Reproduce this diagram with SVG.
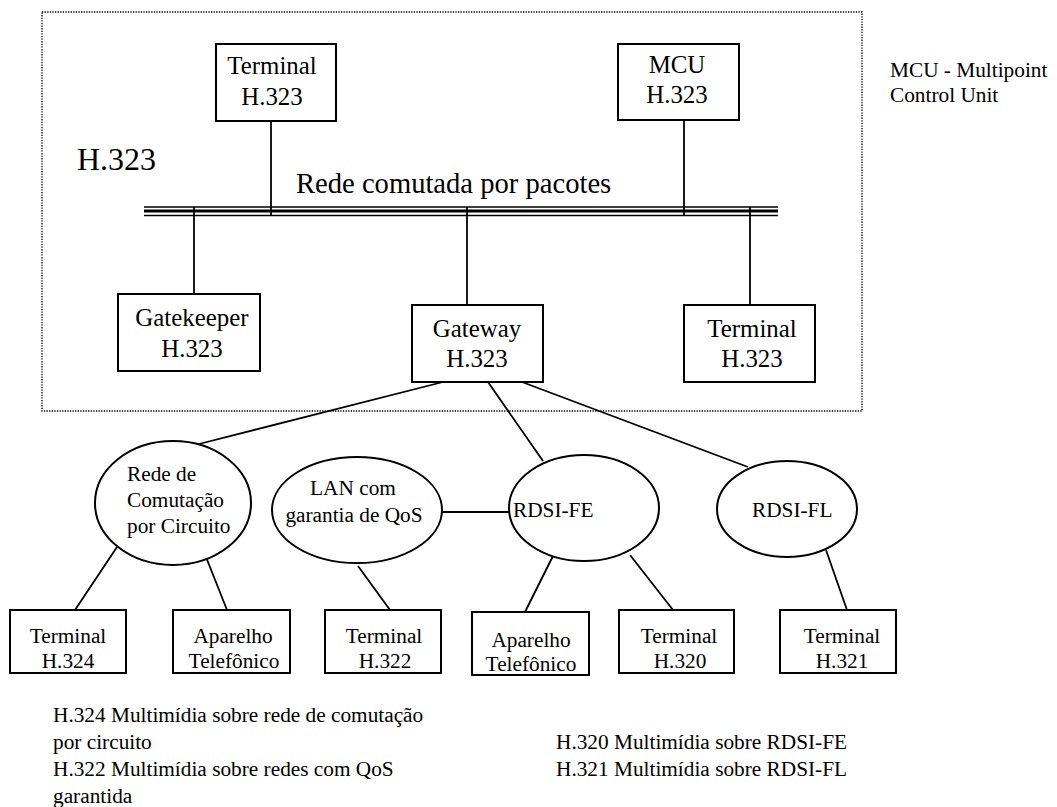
<svg xmlns="http://www.w3.org/2000/svg" width="1057" height="807" viewBox="0 0 1057 807" font-family="'Liberation Serif', 'Times New Roman', 'DejaVu Serif', serif">
  <style>
    text { font-family: "Liberation Serif", "Times New Roman", "DejaVu Serif", serif; fill: #000; }
    .box { fill: #fff; stroke: #000; stroke-width: 2; }
    .oval { fill: #fff; stroke: #000; stroke-width: 2; }
    .wire { stroke: #000; stroke-width: 1.8; fill: none; }
    .up { font-size: 24.9px; text-anchor: middle; }
    .lo { font-size: 21.3px; text-anchor: middle; }
    .net { font-size: 21.3px; }
    .note { font-size: 21.3px; }
  </style>

  <rect x="0" y="0" width="1057" height="807" fill="#fff"/>

  <!-- H.323 zone boundary -->
  <g id="zone-h323">
    <rect x="42" y="12" width="820" height="399" fill="none" stroke="#000" stroke-width="1.3" stroke-dasharray="1.3 1.3"/>
    <text x="77" y="170" font-size="32">H.323</text>
  </g>

  <!-- packet-switched backbone -->
  <g id="backbone">
    <line x1="144" y1="207" x2="778" y2="207" stroke="#000" stroke-width="1.3"/>
    <line x1="144" y1="211" x2="778" y2="211" stroke="#000" stroke-width="3"/>
    <line x1="144" y1="215.5" x2="778" y2="215.5" stroke="#000" stroke-width="1.5"/>
    <text x="296" y="193" font-size="28.6">Rede comutada por pacotes</text>
  </g>

  <g id="connectors">
    <line class="wire" x1="271" y1="121" x2="271" y2="216"/>
    <line class="wire" x1="684" y1="120" x2="684" y2="216"/>
    <line class="wire" x1="194" y1="207" x2="194" y2="294"/>
    <line class="wire" x1="467" y1="207" x2="467" y2="305"/>
    <line class="wire" x1="750" y1="207" x2="750" y2="305"/>
    <line class="wire" x1="443" y1="382" x2="199" y2="444"/>
    <line class="wire" x1="488" y1="382" x2="543" y2="461"/>
    <line class="wire" x1="522" y1="382" x2="748" y2="467"/>
    <line class="wire" x1="442" y1="512" x2="510" y2="512"/>
    <line class="wire" x1="117" y1="547" x2="75" y2="610"/>
    <line class="wire" x1="206" y1="557" x2="227" y2="610"/>
    <line class="wire" x1="358" y1="566" x2="390" y2="610"/>
    <line class="wire" x1="553" y1="556" x2="525" y2="612"/>
    <line class="wire" x1="630" y1="555" x2="673" y2="610"/>
    <line class="wire" x1="826" y1="550" x2="847" y2="610"/>
  </g>

  <g id="terminal-h323-top">
    <rect class="box" x="216" y="44" width="120" height="77"/>
    <text class="up" x="272" y="74">Terminal</text>
    <text class="up" x="272" y="105">H.323</text>
  </g>

  <g id="mcu-h323">
    <rect class="box" x="618" y="44" width="121" height="76"/>
    <text class="up" x="677" y="73">MCU</text>
    <text class="up" x="677" y="103">H.323</text>
  </g>

  <g id="gatekeeper-h323">
    <rect class="box" x="118" y="294" width="142" height="77"/>
    <text class="up" x="192" y="326">Gatekeeper</text>
    <text class="up" x="192" y="357">H.323</text>
  </g>

  <g id="gateway-h323">
    <rect class="box" x="412" y="305" width="131" height="77"/>
    <text class="up" x="477" y="337">Gateway</text>
    <text class="up" x="477" y="367">H.323</text>
  </g>

  <g id="terminal-h323-right">
    <rect class="box" x="684" y="305" width="131" height="77"/>
    <text class="up" x="752" y="337">Terminal</text>
    <text class="up" x="752" y="367">H.323</text>
  </g>

  <g id="net-circuit">
    <ellipse class="oval" cx="173" cy="503" rx="78" ry="62"/>
    <text class="net" x="127" y="481">Rede de</text>
    <text class="net" x="127" y="507">Comutação</text>
    <text class="net" x="127" y="533">por Circuito</text>
  </g>

  <g id="net-lan-qos">
    <ellipse class="oval" cx="357" cy="510" rx="85" ry="53"/>
    <text class="net" x="353" y="495" text-anchor="middle">LAN com</text>
    <text class="net" x="354" y="522" text-anchor="middle">garantia de QoS</text>
  </g>

  <g id="net-rdsi-fe">
    <ellipse class="oval" cx="584" cy="508" rx="75" ry="53"/>
    <text class="net" x="513" y="517">RDSI-FE</text>
  </g>

  <g id="net-rdsi-fl">
    <ellipse class="oval" cx="787" cy="509" rx="70" ry="48"/>
    <text class="net" x="752" y="517">RDSI-FL</text>
  </g>

  <g id="terminal-h324">
    <rect class="box" x="10" y="610" width="116" height="63"/>
    <text class="lo" x="68" y="643">Terminal</text>
    <text class="lo" x="68" y="668">H.324</text>
  </g>

  <g id="phone-circuit">
    <rect class="box" x="173" y="610" width="117" height="63"/>
    <text class="lo" x="233" y="643">Aparelho</text>
    <text class="lo" x="234" y="668">Telefônico</text>
  </g>

  <g id="terminal-h322">
    <rect class="box" x="325" y="610" width="116" height="63"/>
    <text class="lo" x="384" y="643">Terminal</text>
    <text class="lo" x="385" y="668">H.322</text>
  </g>

  <g id="phone-rdsi">
    <rect class="box" x="472" y="612" width="117" height="63"/>
    <text class="lo" x="531" y="647">Aparelho</text>
    <text class="lo" x="531" y="671">Telefônico</text>
  </g>

  <g id="terminal-h320">
    <rect class="box" x="619" y="610" width="115" height="63"/>
    <text class="lo" x="679" y="643">Terminal</text>
    <text class="lo" x="680" y="668">H.320</text>
  </g>

  <g id="terminal-h321">
    <rect class="box" x="780" y="610" width="116" height="63"/>
    <text class="lo" x="842" y="643">Terminal</text>
    <text class="lo" x="842" y="668">H.321</text>
  </g>

  <!-- notes -->
  <g id="note-mcu">
    <text class="note" x="890" y="77">MCU - Multipoint</text>
    <text class="note" x="890" y="102">Control Unit</text>
  </g>

  <g id="legend-left">
    <text class="note" x="53" y="722">H.324 Multimídia sobre rede de comutação</text>
    <text class="note" x="53" y="749">por circuito</text>
    <text class="note" x="53" y="776">H.322 Multimídia sobre redes com QoS</text>
    <text class="note" x="53" y="803">garantida</text>
  </g>

  <g id="legend-right">
    <text class="note" x="556" y="749">H.320 Multimídia sobre RDSI-FE</text>
    <text class="note" x="556" y="776">H.321 Multimídia sobre RDSI-FL</text>
  </g>
</svg>
